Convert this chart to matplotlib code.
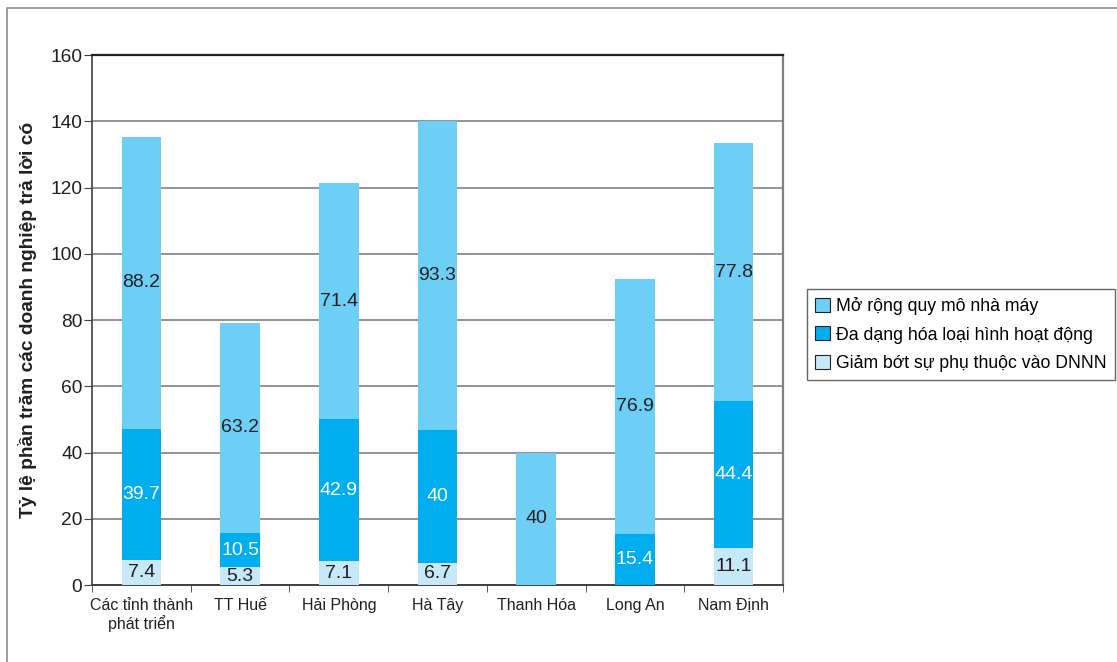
import numpy as np
import matplotlib
matplotlib.use('Agg')
import matplotlib.pyplot as plt
from matplotlib.patches import Rectangle

plt.rcParams['font.family'] = ['Liberation Sans', 'DejaVu Sans']

categories = ['Các tỉnh thành\nphát triển', 'TT Huế', 'Hải Phòng', 'Hà Tây',
              'Thanh Hóa', 'Long An', 'Nam Định']
giam_bot = [7.4, 5.3, 7.1, 6.7, 0, 0, 11.1]
da_dang = [39.7, 10.5, 42.9, 40, 0, 15.4, 44.4]
mo_rong = [88.2, 63.2, 71.4, 93.3, 40, 76.9, 77.8]

series_names = ['Mở rộng quy mô nhà máy', 'Đa dạng hóa loại hình hoạt động',
                'Giảm bớt sự phụ thuộc vào DNNN']
colors = ['#6dcff6', '#00aeef', '#c7e8f9']
text_colors = ['#231f20', 'white', '#231f20']

fig = plt.figure(figsize=(11.17, 6.62), dpi=100)
ax = fig.add_axes([0.0824, 0.1163, 0.6186, 0.8006])

# outer frame
fig.patches.append(Rectangle((7 / 1117, -0.1), 1.2, 1 - 8 / 662 + 0.1,
                             transform=fig.transFigure, fill=False,
                             edgecolor='#8c8c8c', linewidth=1.2))

x = np.arange(len(categories))
w = 0.4
bottom0 = np.zeros(len(x))
bottom1 = bottom0 + np.array(giam_bot)
bottom2 = bottom1 + np.array(da_dang)

stack = [(giam_bot, bottom0, 2), (da_dang, bottom1, 1), (mo_rong, bottom2, 0)]
bars = {}
for vals, bot, i in stack:
    bars[i] = ax.bar(x, vals, w, bottom=bot, color=colors[i], zorder=3,
                     label=series_names[i])
    for xi, v, b in zip(x, vals, bot):
        if v > 0:
            ax.text(xi, b + v / 2, '{:g}'.format(v), ha='center', va='center',
                    fontsize=14, color=text_colors[i], zorder=4)

ax.set_xlim(-0.5, len(x) - 0.5)
ax.set_ylim(0, 160)
ax.set_yticks(np.arange(0, 161, 20))
ax.tick_params(axis='y', labelsize=13.8, length=6, pad=1, color='#404040',
               labelcolor='#231f20')
ax.set_xticks(x)
ax.set_xticklabels(categories, fontsize=11.5, color='#231f20')
ax.tick_params(axis='x', length=0, pad=9)
ax.set_xticks(np.arange(-0.5, len(x), 1), minor=True)
ax.tick_params(axis='x', which='minor', length=5, color='#404040')
ax.grid(axis='y', color='#808080', linewidth=1.2, zorder=0)

ax.spines['top'].set_color('#231f20')
ax.spines['top'].set_linewidth(1.6)
ax.spines['right'].set_color('#808080')
ax.spines['right'].set_linewidth(1.6)
ax.spines['left'].set_color('#404040')
ax.spines['left'].set_linewidth(1.2)
ax.spines['bottom'].set_color('#404040')
ax.spines['bottom'].set_linewidth(1.4)

ax.set_ylabel('Tỷ lệ phần trăm các doanh nghiệp trả lời có', fontsize=13.8,
              fontweight='bold', color='#231f20', va='center')
ax.yaxis.set_label_coords(-(92 - 27) / 691, 0.5)

handles = [bars[0], bars[1], bars[2]]
leg = fig.legend(handles, series_names, loc='upper left',
                 bbox_to_anchor=(807 / 1117, 1 - 289 / 662), fontsize=12.7,
                 frameon=True, fancybox=False, edgecolor='#404040',
                 handlelength=0.85, handleheight=0.85, handletextpad=0.35,
                 borderpad=0.45, labelspacing=0.65, borderaxespad=0)
leg.get_frame().set_linewidth(1.0)
for p in leg.get_patches():
    p.set_edgecolor('#231f20')
    p.set_linewidth(0.8)

fig.savefig('out.png', dpi=100)
